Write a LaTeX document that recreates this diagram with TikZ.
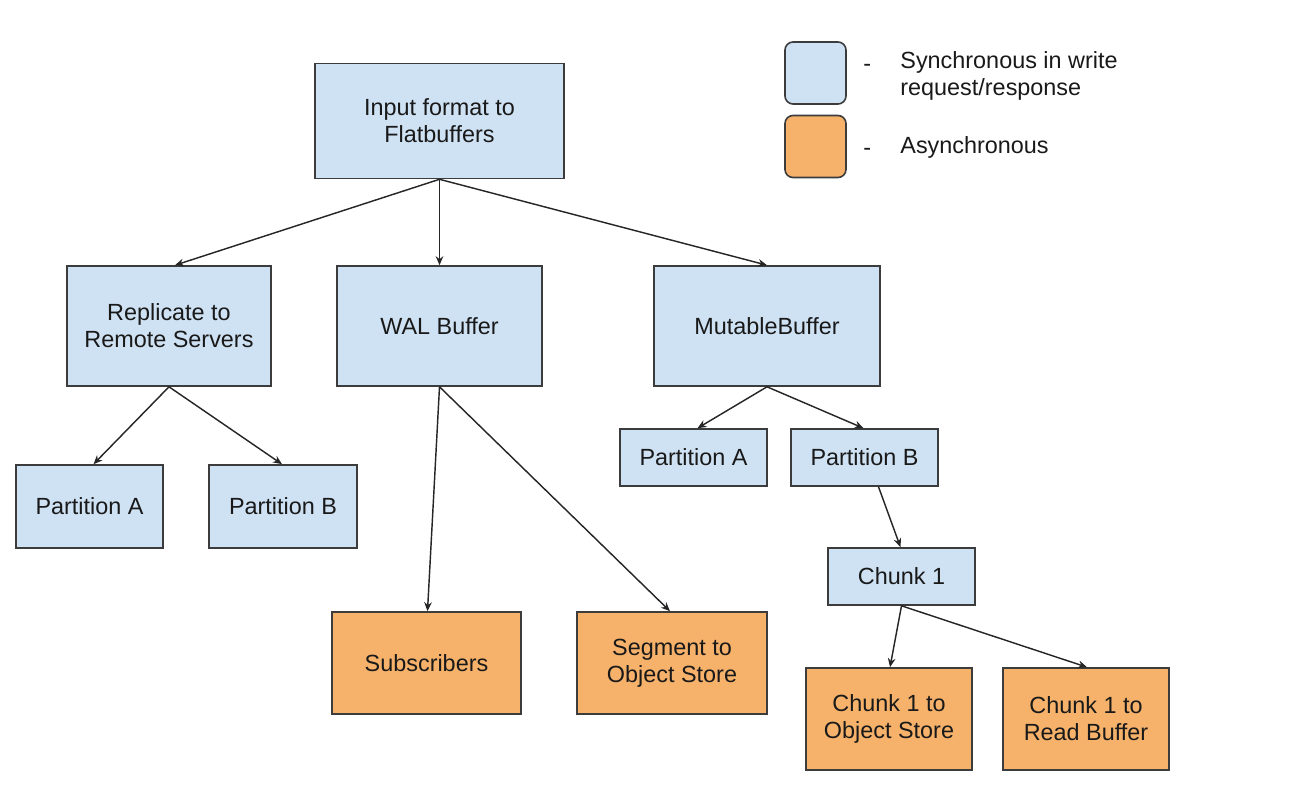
\documentclass[tikz,border=0pt]{standalone}
\usepackage{fontspec}
\setmainfont{Liberation Sans}
\usetikzlibrary{arrows.meta}
\definecolor{syncblue}{HTML}{CFE2F3}
\definecolor{asyncorange}{HTML}{F6B26B}
\definecolor{edgegray}{HTML}{3C3C3C}
\tikzset{
  box/.style={draw=edgegray, line width=0.8pt, align=center, inner sep=0pt,
    font=\fontsize{11.7}{13.5}\selectfont, text=black!90},
  sync/.style={box, fill=syncblue},
  async/.style={box, fill=asyncorange},
  conn/.style={draw=black!85, line width=0.72pt, -{Stealth[length=4.5pt,width=3.8pt]}},
  legendbox/.style={draw=edgegray, line width=0.8pt, rounded corners=4pt, minimum width=30.5pt, minimum height=31pt, inner sep=0pt},
  legendtext/.style={font=\fontsize{11.7}{13.5}\selectfont, text=black!90, align=left, anchor=west, inner sep=0pt}
}
\begin{document}
\begin{tikzpicture}[x=0.5pt,y=-0.5pt]
\useasboundingbox (0,0) rectangle (1312,792);
% nodes (centers in pixel coordinates)
\node[sync, minimum width=124.5pt, minimum height=57.5pt] (input) at (439.5,121) {Input format to\\Flatbuffers};
\node[sync, minimum width=102pt, minimum height=60pt] (repl) at (169,326) {Replicate to\\Remote Servers};
\node[sync, minimum width=102.5pt, minimum height=60pt] (wal) at (439.5,326) {WAL Buffer};
\node[sync, minimum width=113pt, minimum height=60pt] (mut) at (767,326) {MutableBuffer};
\node[sync, minimum width=73.5pt, minimum height=41.5pt] (pa1) at (89.5,506.5) {Partition A};
\node[sync, minimum width=74pt, minimum height=41.5pt] (pb1) at (283,506.5) {Partition B};
\node[sync, minimum width=73.5pt, minimum height=28.5pt] (pa2) at (693.5,457.5) {Partition A};
\node[sync, minimum width=73.5pt, minimum height=28.5pt] (pb2) at (864.5,457.5) {Partition B};
\node[sync, minimum width=73.5pt, minimum height=28.5pt] (chunk) at (901.5,576.5) {Chunk 1};
\node[async, minimum width=94.5pt, minimum height=51pt] (subs) at (426.5,663) {Subscribers};
\node[async, minimum width=95pt, minimum height=51pt] (seg) at (672,663) {Segment to\\Object Store};
\node[async, minimum width=83pt, minimum height=51pt] (cos) at (889,719) {Chunk 1 to\\Object Store};
\node[async, minimum width=83pt, minimum height=51pt] (crb) at (1086,719) {Chunk 1 to\\Read Buffer};
% connectors
\draw[conn] (input.south) -- ([xshift=3pt]repl.north);
\draw[conn] (input.south) -- (wal.north);
\draw[conn] (input.south) -- (mut.north);
\draw[conn] (repl.south) -- ([xshift=2pt]pa1.north);
\draw[conn] (repl.south) -- ([xshift=-0.5pt]pb1.north);
\draw[conn] (wal.south) -- ([xshift=0.5pt]subs.north);
\draw[conn] (wal.south) -- ([xshift=-1pt]seg.north);
\draw[conn] (mut.south) -- ([xshift=2pt]pa2.north);
\draw[conn] (mut.south) -- ([xshift=-0.5pt]pb2.north);
\draw[conn] ([xshift=7pt]pb2.south) -- ([xshift=-0.5pt]chunk.north);
\draw[conn] (chunk.south) -- ([xshift=0.5pt]cos.north);
\draw[conn] (chunk.south) -- ([xshift=0.5pt]crb.north);
% legend
\node[legendbox, fill=syncblue] (lsync) at (815.5,73) {};
\node[legendbox, fill=asyncorange] (lasync) at (815.5,146.5) {};
\node[legendtext] (dash1) at (863,68) {-};
\node[legendtext] (dash2) at (863,152) {-};
\node[legendtext] (tsync) at (900,75.5) {Synchronous in write\\request/response};
\node[legendtext] (tasync) at (900,147) {Asynchronous};
\end{tikzpicture}
\end{document}
